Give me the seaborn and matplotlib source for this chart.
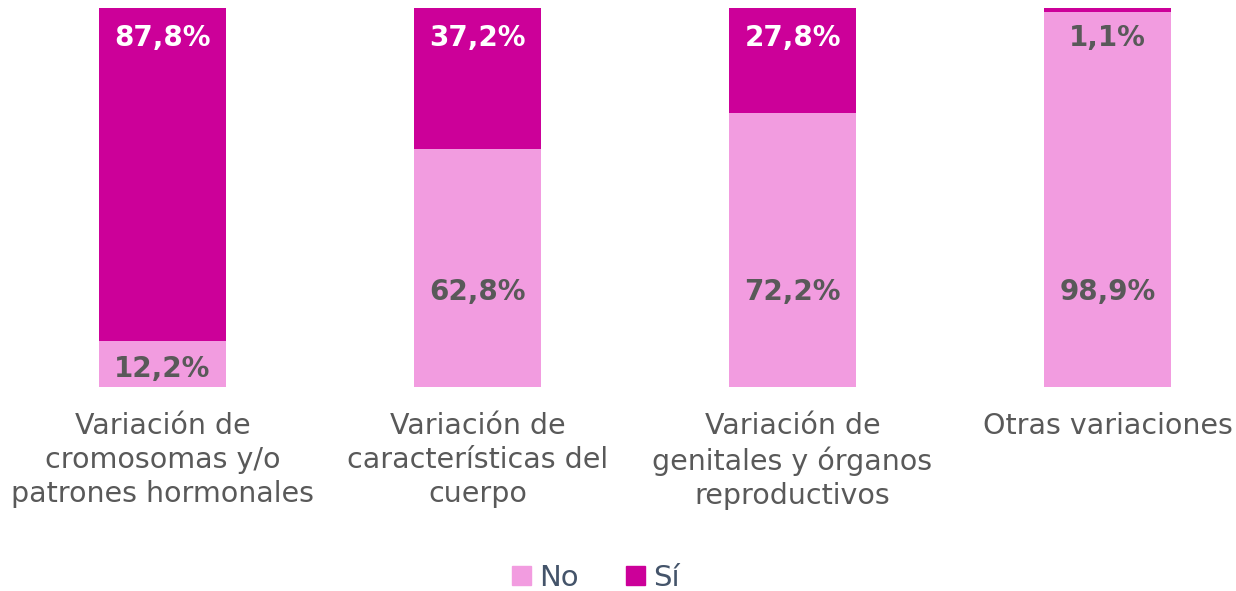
import matplotlib
matplotlib.use("Agg")
import matplotlib.pyplot as plt
import seaborn as sns
import pandas as pd
from matplotlib.patches import Patch

# Datos
categorias = ["Variación de\ncromosomas y/o\npatrones hormonales",
              "Variación de\ncaracterísticas del\ncuerpo",
              "Variación de\ngenitales y órganos\nreproductivos",
              "Otras variaciones"]
no_vals = [12.2, 62.8, 72.2, 98.9]
si_vals = [87.8, 37.2, 27.8, 1.1]

color_no = "#F29CE0"
color_si = "#CC0099"
gris = "#595959"

sns.set_theme(style="white")
plt.rcParams["font.family"] = ["DejaVu Sans"]

df = pd.DataFrame({"cat": categorias, "No": no_vals, "Si": si_vals})
df["total"] = df["No"] + df["Si"]

fig = plt.figure(figsize=(12.36, 5.91), dpi=100)
ax = fig.add_axes([0, 0.345, 1, 0.6415])

# barra completa (Sí encima) y luego la parte "No" desde abajo
sns.barplot(data=df, x="cat", y="total", color=color_si, width=0.403,
            saturation=1, ax=ax, edgecolor="none")
sns.barplot(data=df, x="cat", y="No", color=color_no, width=0.403,
            saturation=1, ax=ax, edgecolor="none")

ax.set_xlim(-0.516, 3.408)
ax.set_ylim(0, 100)
ax.set_xlabel("")
ax.set_ylabel("")
ax.set_yticks([])
ax.tick_params(axis="x", length=0, pad=18)
ax.set_xticks(range(len(categorias)))
ax.set_xticklabels(categorias, fontsize=20.5, color=gris, linespacing=1.28, va="top")
for s in ax.spines.values():
    s.set_visible(False)

# etiquetas de valores
for i, (n, s) in enumerate(zip(no_vals, si_vals)):
    y_no = min(n * 0.4, 25)
    ax.text(i, y_no, f"{n:.1f}%".replace(".", ","), ha="center", va="center",
            fontsize=20, fontweight="bold", color=gris)
    col = "white" if s > 5 else gris
    ax.text(i, 92, f"{s:.1f}%".replace(".", ","), ha="center", va="center",
            fontsize=20, fontweight="bold", color=col)

handles = [Patch(color=color_no, label="No"), Patch(color=color_si, label="Sí")]
leg = fig.legend(handles=handles, loc="center", bbox_to_anchor=(0.482, 0.022),
                 ncol=2, frameon=False, fontsize=21, handlelength=0.65,
                 handleheight=0.65, handletextpad=0.3, columnspacing=1.6)
for t in leg.get_texts():
    t.set_color("#44546A")

fig.savefig("out.png", dpi=100)
